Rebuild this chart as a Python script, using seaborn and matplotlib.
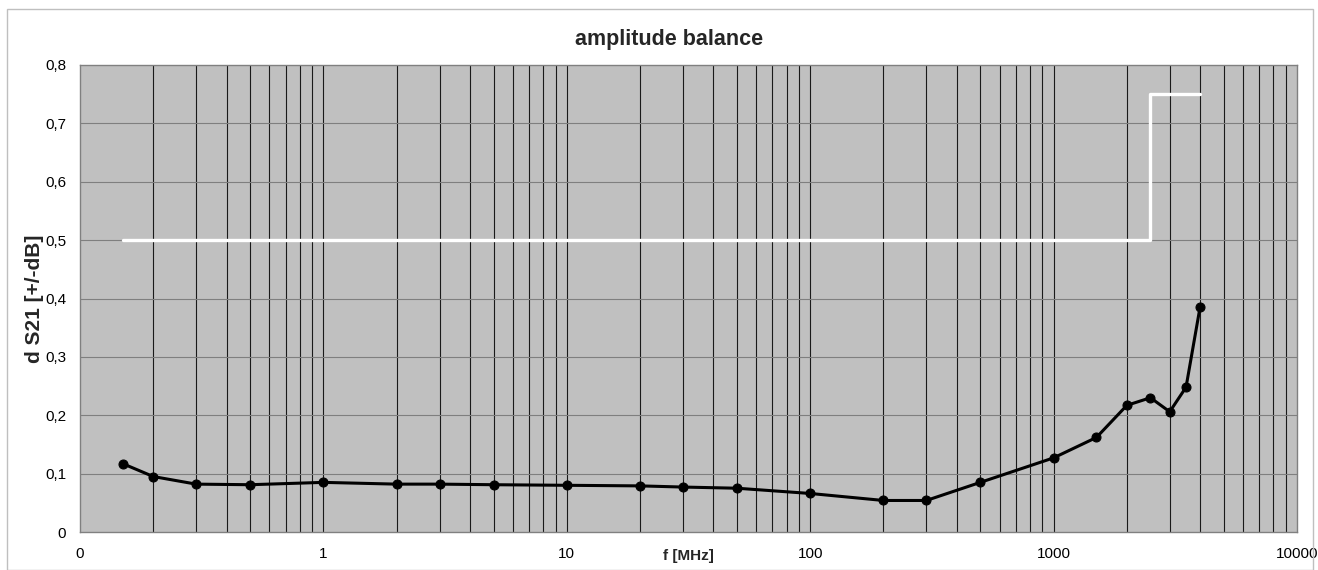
import numpy as np
import pandas as pd
import matplotlib
matplotlib.use("Agg")
import matplotlib.pyplot as plt
import seaborn as sns
from matplotlib.ticker import FixedLocator, FixedFormatter, NullFormatter
from matplotlib.patches import Rectangle

sns.set_theme(style="white")
plt.rcParams['font.family'] = ['Liberation Sans', 'DejaVu Sans']

# data
freq_mhz = [0.15, 0.2, 0.3, 0.5, 1, 2, 3, 5, 10, 20, 30, 50, 100, 200, 300,
            500, 1000, 1500, 2000, 2500, 3000, 3500, 4000]
ds21_db = [0.117, 0.095, 0.082, 0.081, 0.085, 0.082, 0.082, 0.081, 0.080, 0.079,
           0.077, 0.075, 0.066, 0.054, 0.054, 0.085, 0.127, 0.162, 0.217, 0.230,
           0.206, 0.248, 0.386]
limit_freq = [0.15, 2500, 4000]
limit_db = [0.5, 0.75, 0.75]
x_tick_vals = [0.1, 1, 10, 100, 1000, 10000]
x_tick_labels = ["0", "1", "10", "100", "1000", "10000"]
y_tick_vals = [0, 0.1, 0.2, 0.3, 0.4, 0.5, 0.6, 0.7, 0.8]
y_tick_labels = ["0", "0,1", "0,2", "0,3", "0,4", "0,5", "0,6", "0,7", "0,8"]

df = pd.DataFrame({"f": freq_mhz, "d": ds21_db})
lim = pd.DataFrame({"f": limit_freq, "d": limit_db})

W, H = 1318, 570
fig = plt.figure(figsize=(W / 100, H / 100), dpi=100)
ax = fig.add_axes([80 / W, 1 - 532 / H, (1297 - 80) / W, (532 - 65) / H])
ax.set_facecolor("#C0C0C0")
ax.set_xscale("log")
ax.set_xlim(0.1, 10000)
ax.set_ylim(0, 0.8)

# gridlines
minor = [m * 10.0 ** e for e in range(-1, 4) for m in range(2, 10)]
for v in minor + [1, 10, 100, 1000]:
    ax.axvline(v, color="#1a1a1a", lw=0.8, zorder=1)
for v in y_tick_vals[1:-1]:
    ax.axhline(v, color="#7f7f7f", lw=0.8, zorder=1)

sns.lineplot(data=lim, x="f", y="d", ax=ax, color="white", lw=2.4,
             drawstyle="steps-post", estimator=None, sort=False, zorder=3)
sns.lineplot(data=df, x="f", y="d", ax=ax, color="black", lw=2.2,
             marker="o", markersize=6.5, markeredgecolor="black",
             estimator=None, sort=False, zorder=4)

ax.xaxis.set_major_locator(FixedLocator(x_tick_vals))
ax.xaxis.set_major_formatter(FixedFormatter(x_tick_labels))
ax.xaxis.set_minor_formatter(NullFormatter())
ax.set_yticks(y_tick_vals)
ax.set_yticklabels(y_tick_labels)
ax.tick_params(axis="both", which="both", length=0, labelsize=11, colors="black")
ax.tick_params(axis="x", pad=11)
ax.tick_params(axis="y", pad=10)
for s in ax.spines.values():
    s.set_color("#808080")
    s.set_linewidth(1.0)

ax.set_xlabel("")
ax.set_ylabel("d S21 [+/-dB]", fontsize=15, fontweight="bold", labelpad=2)
ax.yaxis.set_label_coords(-46 / (1297 - 80), (532 - 299) / (532 - 65))
ax.yaxis.label.set_va("center")
fig.text(688 / W, 1 - 556 / H, "f [MHz]", ha="center", va="center",
         fontsize=11, fontweight="bold")
fig.text(669 / W, 1 - 40 / H, "amplitude balance", ha="center", va="center",
         fontsize=15.5, fontweight="bold")

# chart frame
fig.patches.append(Rectangle((7 / W, 0), (1313 - 7) / W, 1 - 9 / H,
                             transform=fig.transFigure, fill=False,
                             edgecolor="#bfbfbf", lw=1.0))

fig.savefig("out.png", dpi=100)
